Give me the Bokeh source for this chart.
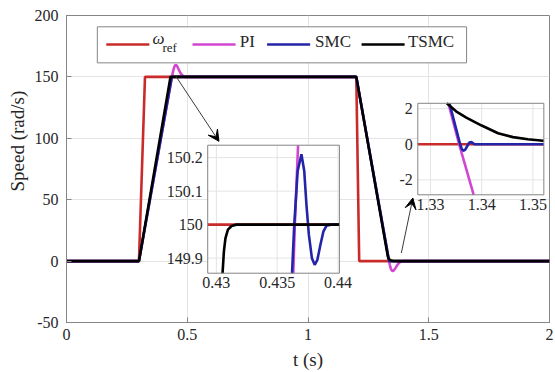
import math
import numpy as np
from bokeh.plotting import figure
from bokeh.models import Range1d, FixedTicker, Label, BoxAnnotation, Arrow, VeeHead, Title
from bokeh.core.properties import value
from bokeh.embed import file_html
from bokeh.resources import INLINE

# ---------------- data ----------------
ref_t = [0.0, 0.300, 0.325, 1.200, 1.212, 2.0]
ref_w = [0, 0, 150, 150, 0, 0]

pi_t = [0.0, 0.300, 0.43645, 0.4380, 0.4400, 0.4430, 0.4460, 0.4490, 0.4520, 0.4550,
        0.4590, 0.4640, 0.4700, 0.4770, 0.4850, 0.4950, 1.200, 1.3336, 1.3356, 1.3370,
        1.3384, 1.3405, 1.3430, 1.3460, 1.3490, 1.3520, 1.3560, 1.3620, 1.3700, 1.3780,
        1.3860, 1.3950, 2.0]
pi_w = [0, 0, 150.0, 151.4, 153.3, 155.8, 157.9, 159.2, 159.8, 159.6,
        158.4, 156.2, 153.8, 151.8, 150.5, 150.0, 150, 2.2, 0.0, -1.4,
        -2.8, -4.6, -6.2, -7.4, -8.0, -8.1, -7.5, -5.7, -3.2, -1.3,
        -0.3, 0, 0]

smc_t = [0.0, 0.300, 0.4360, 0.43640, 0.43668, 0.43699, 0.43722, 0.43740, 0.43760,
         0.43785, 0.43808, 0.43830, 0.43855, 0.43880, 0.43905, 0.4394, 1.200, 1.3358,
         1.3361, 1.3364, 1.3368, 1.3372, 1.3376, 1.3380, 1.3386, 2.0]
smc_w = [0, 0, 149.68, 150.0, 150.16, 150.21, 150.16, 150.06, 149.97,
         149.90, 149.88, 149.895, 149.94, 149.98, 149.997, 150, 150, 0.0,
         -0.25, -0.37, -0.30, -0.10, 0.10, 0.12, 0.0, 0]

tsmc_t = [0.0, 0.300, 0.4302, 0.43050, 0.43062, 0.43075, 0.43095, 0.43125, 0.43165,
          1.200, 1.3290, 1.3305, 1.3318, 1.3332, 1.3350, 1.3370, 1.3400, 1.3432,
          1.3461, 1.3490, 1.3520, 1.3560, 1.3620, 1.3750, 2.0]
tsmc_w = [0, 0, 149.50, 149.85, 149.92, 149.96, 149.985, 149.996, 150,
          150, 5.6, 4.0, 2.95, 2.3, 1.85, 1.5, 1.05, 0.62,
          0.40, 0.28, 0.20, 0.12, 0.05, 0.0, 0]

series_names = ["ω", "PI", "SMC", "TSMC"]

x_ticks = [0, 0.5, 1, 1.5, 2]
x_tick_labels = ["0", "0.5", "1", "1.5", "2"]
y_ticks = [-50, 0, 50, 100, 150, 200]
y_tick_labels = ["-50", "0", "50", "100", "150", "200"]

in1_xticks = [0.43, 0.435, 0.44]
in1_xlabels = ["0.43", "0.435", "0.44"]
in1_yticks = [149.9, 150.0, 150.1, 150.2]
in1_ylabels = ["149.9", "150", "150.1", "150.2"]
in1_xwin = (0.42929, 0.44011)
in1_ywin = (149.855, 150.237)

in2_xticks = [1.33, 1.34, 1.35]
in2_xlabels = ["1.33", "1.34", "1.35"]
in2_yticks = [-2, 0, 2]
in2_ylabels = ["-2", "0", "2"]
in2_xwin = (1.32754, 1.35213)
in2_ywin = (-2.84, 2.30)

# ---------------- style / layout ----------------
FONT = "'Liberation Serif'"
TXT = "#262626"
AX = "#858585"
GRID = "#e4e4e4"
C_REF, C_PI, C_SMC, C_TSMC = "#C92B2B", "#D246D2", "#2424A8", "#000000"
LW = 2.6

W, H = 555, 372
B_L, B_R, B_T, B_B = 65, 6, 15, 49
FW, FH = W - B_L - B_R, H - B_T - B_B

# reference frame (page px) used to place annotations proportionally
REF_L, REF_T, REF_W, REF_H = 65.0, 15.0, 486.7, 307.7


def fx(px):
    return (px - REF_L) / REF_W


def fy(py):
    return 1.0 - (py - REF_T) / REF_H


def sx(px):
    return fx(px) * FW


def sy(py):
    return fy(py) * FH


p = figure(width=W, height=H, x_range=Range1d(0, 2), y_range=Range1d(-50, 200),
           output_backend="svg", toolbar_location=None,
           min_border_left=B_L, min_border_right=B_R,
           min_border_top=B_T, min_border_bottom=B_B)
p.background_fill_color = "white"
p.border_fill_color = "white"
p.outline_line_color = AX
p.outline_line_width = 1

for ax in (p.xaxis[0], p.yaxis[0]):
    ax.axis_line_color = AX
    ax.major_tick_line_color = AX
    ax.major_tick_in = 5
    ax.major_tick_out = 0
    ax.minor_tick_line_color = None
    ax.major_label_text_font = FONT
    ax.major_label_text_font_size = "16px"
    ax.major_label_text_color = TXT

p.xaxis.ticker = FixedTicker(ticks=x_ticks)
p.yaxis.ticker = FixedTicker(ticks=y_ticks)
p.xaxis.major_label_overrides = {float(k): v for k, v in zip(x_ticks, x_tick_labels)}
p.yaxis.major_label_overrides = {float(k): v for k, v in zip(y_ticks, y_tick_labels)}
p.xaxis.major_label_standoff = 6
p.yaxis.major_label_standoff = 8
p.xaxis.axis_label = "t (s)"
p.xaxis.axis_label_text_font = FONT
p.xaxis.axis_label_text_font_size = "19px"
p.xaxis.axis_label_text_font_style = "normal"
p.xaxis.axis_label_text_color = TXT
p.xaxis.axis_label_standoff = 6

p.xgrid.grid_line_color = GRID
p.ygrid.grid_line_color = GRID

# y label as a side title (sits a bit above the frame centre, as in the reference)
p.add_layout(Title(text="Speed (rad/s)", align="left", offset=131, standoff=8,
                   text_font=FONT, text_font_size="19px", text_font_style="normal",
                   text_color=TXT), "left")

series = [(ref_t, ref_w, C_REF), (pi_t, pi_w, C_PI), (smc_t, smc_w, C_SMC), (tsmc_t, tsmc_w, C_TSMC)]
for t, w, c in series:
    p.line(t, w, line_color=c, line_width=LW)


def clip(t, v, xw, yw):
    xs, ys = [], []
    last = None
    for i in range(len(t) - 1):
        x0, y0, x1, y1 = t[i], v[i], t[i + 1], v[i + 1]
        dx, dy = x1 - x0, y1 - y0
        u0, u1 = 0.0, 1.0
        ok = True
        for pk, qk in ((-dx, x0 - xw[0]), (dx, xw[1] - x0), (-dy, y0 - yw[0]), (dy, yw[1] - y0)):
            if pk == 0:
                if qk < 0:
                    ok = False
                    break
            else:
                r = qk / pk
                if pk < 0:
                    if r > u1:
                        ok = False
                        break
                    u0 = max(u0, r)
                else:
                    if r < u0:
                        ok = False
                        break
                    u1 = min(u1, r)
        if not ok or u0 > u1:
            continue
        a = (x0 + u0 * dx, y0 + u0 * dy)
        b = (x0 + u1 * dx, y0 + u1 * dy)
        if last is None or not (np.isclose(last[0], a[0], rtol=0, atol=1e-9) and np.isclose(last[1], a[1], rtol=0, atol=1e-9)):
            if xs:
                xs.append(np.nan)
                ys.append(np.nan)
            xs.append(a[0])
            ys.append(a[1])
        xs.append(b[0])
        ys.append(b[1])
        last = b
    return xs, ys


insets = [
    dict(name="i1", xwin=in1_xwin, ywin=in1_ywin, box=(207.3, 340.0, 145.0, 273.3),
         xt=in1_xticks, xl=in1_xlabels, yt=in1_yticks, yl=in1_ylabels),
    dict(name="i2", xwin=in2_xwin, ywin=in2_ywin, box=(419.0, 546.0, 103.0, 194.7),
         xt=in2_xticks, xl=in2_xlabels, yt=in2_yticks, yl=in2_ylabels),
]

exr, eyr = {}, {}
for ins in insets:
    xw, yw = ins["xwin"], ins["ywin"]
    l, r, t_, b = ins["box"]
    u0, u1 = fx(l), fx(r)
    v0, v1 = fy(b), fy(t_)
    xs_ = (xw[1] - xw[0]) / (u1 - u0)
    x0_ = xw[0] - u0 * xs_
    ys_ = (yw[1] - yw[0]) / (v1 - v0)
    y0_ = yw[0] - v0 * ys_
    exr[ins["name"] + "x"] = Range1d(x0_, x0_ + xs_)
    eyr[ins["name"] + "y"] = Range1d(y0_, y0_ + ys_)
p.extra_x_ranges = exr
p.extra_y_ranges = eyr

for ins in insets:
    xw, yw = ins["xwin"], ins["ywin"]
    kw = dict(x_range_name=ins["name"] + "x", y_range_name=ins["name"] + "y")
    p.quad(left=[xw[0]], right=[xw[1]], bottom=[yw[0]], top=[yw[1]],
           fill_color="white", line_color=None, **kw)
    xt, yt = ins["xt"], ins["yt"]
    p.segment(x0=xt, y0=[yw[0]] * len(xt), x1=xt, y1=[yw[1]] * len(xt),
              line_color=GRID, line_width=1, **kw)
    p.segment(x0=[xw[0]] * len(yt), y0=yt, x1=[xw[1]] * len(yt), y1=yt,
              line_color=GRID, line_width=1, **kw)
    for t, w, c in series:
        cx, cy = clip(t, w, xw, yw)
        if cx:
            p.line(cx, cy, line_color=c, line_width=LW, **kw)
    p.quad(left=[xw[0]], right=[xw[1]], bottom=[yw[0]], top=[yw[1]],
           fill_color=None, line_color=AX, line_width=1, **kw)
    p.text(x=xt, y=[yw[0]] * len(xt), text=ins["xl"], y_offset=4,
           text_align="center", text_baseline="top", text_font=value(FONT),
           text_font_size=value("16px"), text_color=TXT, **kw)
    p.text(x=[xw[0]] * len(yt), y=yt, text=ins["yl"], x_offset=-5,
           text_align="right", text_baseline="middle", text_font=value(FONT),
           text_font_size=value("16px"), text_color=TXT, **kw)

# arrows pointing to the zoomed regions
for (xa, ya, xb, yb) in [(175.0, 76.7, 218.3, 141.7), (401.7, 253.3, 413.3, 198.3)]:
    p.add_layout(Arrow(end=VeeHead(size=11, fill_color="black", line_color="black"),
                       x_start=sx(xa), y_start=sy(ya), x_end=sx(xb), y_end=sy(yb),
                       start_units="screen", end_units="screen",
                       line_color="#3a3a3a", line_width=1))

# legend (horizontal, boxed)
p.add_layout(BoxAnnotation(left=sx(96), right=sx(467.3), top=sy(27.3), bottom=sy(63.3),
                           left_units="screen", right_units="screen",
                           top_units="screen", bottom_units="screen",
                           fill_color="white", fill_alpha=1.0, line_color=AX,
                           line_alpha=1.0, line_width=1, level="annotation"))
leg_lines = [(105, 148.3, C_REF), (191.7, 235, C_PI), (266.7, 310, C_SMC), (361.7, 405, C_TSMC)]
for (a, b, c) in leg_lines:
    p.add_layout(Arrow(start=None, end=None, x_start=sx(a), y_start=sy(45), x_end=sx(b), y_end=sy(45),
                       start_units="screen", end_units="screen", line_color=c, line_width=LW))
p.add_layout(Label(text=series_names[0], x=sx(151.5), y=sy(48.5), x_units="screen", y_units="screen",
                   text_font=FONT, text_font_style="italic", text_font_size="17px", text_color=TXT))
p.add_layout(Label(text="ref", x=sx(161.5), y=sy(55.0), x_units="screen", y_units="screen",
                   text_font=FONT, text_font_size="13px", text_color=TXT))
for name, xpos in zip(series_names[1:], [239.3, 315.0, 408.3]):
    p.add_layout(Label(text=name, x=sx(xpos), y=sy(51.7), x_units="screen", y_units="screen",
                       text_font=FONT, text_font_size="17px", text_color=TXT))

open("out.html", "w").write(file_html(p, INLINE))
